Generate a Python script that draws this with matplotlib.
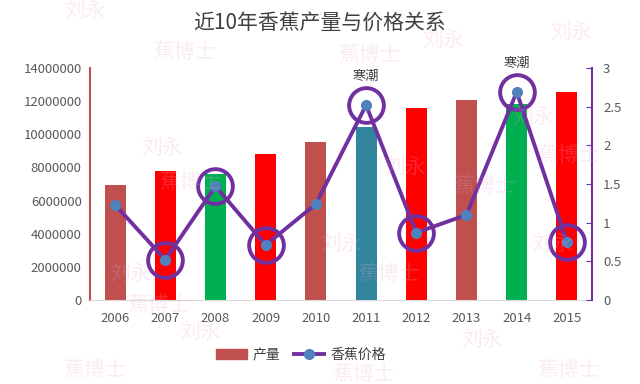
import matplotlib.pyplot as plt
import numpy as np
from matplotlib.patches import Patch
from matplotlib.lines import Line2D

plt.rcParams['font.family'] = ['Noto Sans CJK SC', 'DejaVu Sans']

years = ['2006', '2007', '2008', '2009', '2010', '2011', '2012', '2013', '2014', '2015']
output = [6940000, 7780000, 7600000, 8810000, 9530000, 10440000, 11590000, 12070000, 11800000, 12550000]
price = [1.23, 0.52, 1.47, 0.71, 1.24, 2.52, 0.87, 1.10, 2.69, 0.75]
bar_colors = ['#C0504D', '#FF0000', '#00B050', '#FF0000', '#C0504D',
              '#31859C', '#FF0000', '#C0504D', '#00B050', '#FF0000']
circled = ['2007', '2008', '2009', '2011', '2012', '2014', '2015']
notes = {'2011': '寒潮', '2014': '寒潮'}

fig = plt.figure(figsize=(6.4, 3.84), dpi=100)
ax = fig.add_axes([0.1406, 0.219, 0.7844, 0.604])
ax2 = ax.twinx()

# faint watermarks
marks = [(0.10, 0.955, '刘永'), (0.66, 0.88, '刘永'), (0.86, 0.90, '刘永'),
         (0.24, 0.85, '蕉博士'), (0.53, 0.84, '蕉博士'),
         (0.22, 0.60, '刘永'), (0.25, 0.51, '蕉博士'), (0.60, 0.55, '刘永'),
         (0.71, 0.50, '蕉博士'), (0.80, 0.68, '刘永'), (0.84, 0.58, '蕉博士'),
         (0.17, 0.27, '刘永'), (0.20, 0.19, '蕉博士'), (0.50, 0.35, '刘永'),
         (0.56, 0.27, '蕉博士'), (0.83, 0.35, '刘永'), (0.28, 0.12, '刘永'),
         (0.10, 0.02, '蕉博士'), (0.84, 0.02, '蕉博士'), (0.52, 0.01, '蕉博士'),
         (0.72, 0.10, '刘永')]
for mx, my, t in marks:
    fig.text(mx, my, t, fontsize=15, color='#E9A6D4', alpha=0.22, zorder=5)

x = np.arange(len(years))
ax.bar(x, output, width=0.42, color=bar_colors, zorder=2)
ax.set_ylim(0, 14000000)
ax.set_yticks(np.arange(0, 14000001, 2000000))
ax.set_yticklabels([str(v) for v in range(0, 14000001, 2000000)])
ax.set_xlim(-0.5, len(years) - 0.5)
ax.set_xticks(x)
ax.set_xticklabels(years)
ax.tick_params(axis='both', length=0, labelsize=9.5, labelcolor='#595959', pad=6)
ax.tick_params(axis='x', pad=9)
ax.spines['top'].set_visible(False)
ax.spines['right'].set_visible(False)
ax.spines['left'].set_color('#C0504D')
ax.spines['left'].set_linewidth(1.5)
ax.spines['bottom'].set_color('#D9D9D9')
ax.patch.set_alpha(0)

ax2.plot(x, price, color='#7030A0', lw=2.8, marker='o', ms=7,
         mfc='#4F81BD', mec='#4F81BD', zorder=3)
for i, y in enumerate(years):
    if y in circled:
        ax2.plot(x[i], price[i], 'o', ms=25, mfc='none', mec='#7030A0', mew=2.8, zorder=4)
    if y in notes:
        ax2.text(x[i], price[i] + 0.28, notes[y], ha='center', va='bottom',
                 fontsize=9.5, color='#404040')
ax2.set_ylim(0, 3)
ax2.set_yticks([0, 0.5, 1, 1.5, 2, 2.5, 3])
ax2.set_yticklabels(['0', '0.5', '1', '1.5', '2', '2.5', '3'])
ax2.tick_params(axis='y', direction='in', length=4, color='#7030A0',
                labelsize=9.5, labelcolor='#595959', pad=8)
for s in ['top', 'left', 'bottom']:
    ax2.spines[s].set_visible(False)
ax2.spines['right'].set_color('#7030A0')
ax2.spines['right'].set_linewidth(1.5)

fig.text(0.5, 0.94, '近10年香蕉产量与价格关系', ha='center', va='center',
         fontsize=15, color='#404040')

handles = [Patch(color='#C0504D', label='产量'),
           Line2D([0], [0], color='#7030A0', lw=2.8, marker='o', ms=7,
                  mfc='#4F81BD', mec='#4F81BD', label='香蕉价格')]
fig.legend(handles=handles, loc='center', bbox_to_anchor=(0.47, 0.075), ncol=2,
           frameon=False, fontsize=10, labelcolor='#404040',
           handlelength=2.2, columnspacing=1.0, handletextpad=0.4)

fig.savefig('out.png', dpi=100)
